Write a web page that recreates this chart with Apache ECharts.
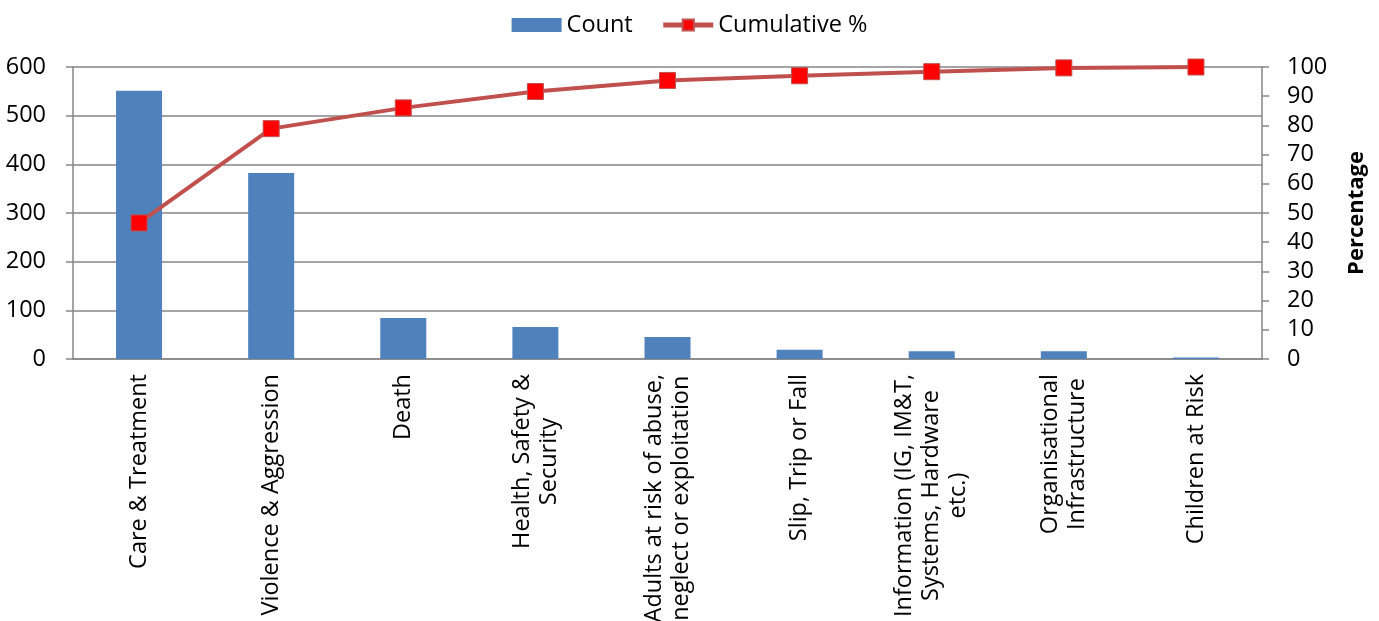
<!DOCTYPE html>
<html>
<head>
<meta charset="utf-8">
<script src="https://cdn.jsdelivr.net/npm/echarts@6/dist/echarts.min.js"></script>
<style>
  html, body { margin: 0; padding: 0; background: #fff; }
  #chart { width: 1379px; height: 621px; }
</style>
</head>
<body>
<div id="chart"></div>
<script>
// Incident categories (line breaks as shown under the axis)
const categories = [
  'Care & Treatment',
  'Violence & Aggression',
  'Death',
  'Health, Safety &\nSecurity',
  'Adults at risk of abuse,\nneglect or exploitation',
  'Slip, Trip or Fall',
  'Information (IG, IM&T,\nSystems, Hardware\netc.)',
  'Organisational\nInfrastructure',
  'Children at Risk'
];
// Number of incidents per category
const counts = [551, 382, 84, 66, 45, 19, 16, 16, 3];
// Running share of all incidents, in percent
const cumulative = [46.6, 78.9, 86.0, 91.6, 95.4, 97.0, 98.4, 99.7, 100];

const FONT = '"Open Sans", "DejaVu Sans", sans-serif';
const GREY = '#868686';
const FS = 23.5;

const chart = echarts.init(document.getElementById('chart'));
chart.setOption({
  animation: false,
  textStyle: { fontFamily: FONT },
  legend: {
    top: 8,
    left: 'center',
    itemWidth: 50,
    itemHeight: 14,
    itemGap: 28,
    textStyle: { fontSize: FS, color: '#000', fontFamily: FONT },
    data: [
      { name: 'Count', icon: 'rect' },
      { name: 'Cumulative %', lineStyle: { width: 5 } }
    ]
  },
  grid: {
    left: 73, right: 117, top: 67, bottom: 262,
    containLabel: false,
    outerBoundsMode: 'none'
  },
  xAxis: {
    type: 'category',
    data: categories,
    axisLine: { show: true, lineStyle: { color: GREY, width: 1.5 } },
    axisTick: { show: false },
    axisLabel: {
      rotate: 90,
      margin: 15,
      interval: 0,
      formatter: v => '{c|' + v + '}',
      rich: {
        c: { align: 'center', fontSize: FS, lineHeight: 27, color: '#000', fontFamily: FONT }
      }
    }
  },
  yAxis: [
    {
      type: 'value',
      min: 0, max: 600, interval: 100,
      axisLine: { show: true, lineStyle: { color: GREY, width: 1.5 } },
      axisTick: { show: true, length: 7, lineStyle: { color: GREY, width: 1.5 } },
      axisLabel: { fontSize: FS, color: '#000', margin: 27, fontFamily: FONT },
      splitLine: { show: true, lineStyle: { color: GREY, width: 1.5 } }
    },
    {
      type: 'value',
      min: 0, max: 100, interval: 10,
      name: 'Percentage',
      nameLocation: 'middle',
      nameRotate: 90,
      nameGap: 84,
      nameTextStyle: { fontSize: 22, fontWeight: 'bold', color: '#000', fontFamily: FONT },
      axisLine: { show: true, lineStyle: { color: GREY, width: 1.5 } },
      axisTick: { show: true, length: 7, lineStyle: { color: GREY, width: 1.5 } },
      axisLabel: { fontSize: FS, color: '#000', margin: 25, fontFamily: FONT },
      splitLine: { show: false }
    }
  ],
  series: [
    {
      name: 'Count',
      type: 'bar',
      yAxisIndex: 0,
      data: counts,
      barWidth: 46,
      itemStyle: { color: '#4F81BD' }
    },
    {
      name: 'Cumulative %',
      type: 'line',
      yAxisIndex: 1,
      data: cumulative,
      symbol: 'rect',
      symbolSize: 16,
      lineStyle: { color: '#C0504D', width: 4 },
      itemStyle: { color: '#FF0000', borderColor: '#C0504D', borderWidth: 1 }
    }
  ]
});
</script>
</body>
</html>
